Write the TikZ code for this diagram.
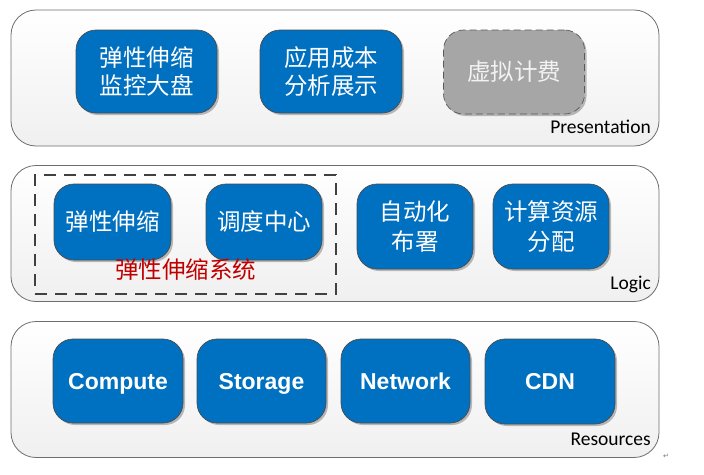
\documentclass[tikz,border=0pt]{standalone}
\usepackage{fontspec}
\usetikzlibrary{shadows}
\newfontfamily\cjk{Noto Sans CJK SC}
\newfontfamily\lbl{Carlito}
\newfontfamily\arialb{Liberation Sans}[BoldFont={Liberation Sans Bold}]
\newfontfamily\dejavu{DejaVu Sans}
\definecolor{boxblue}{RGB}{0,112,192}
\definecolor{boxgray}{RGB}{166,166,166}
\definecolor{sysred}{RGB}{192,0,0}
\definecolor{panelline}{RGB}{110,110,110}
\tikzset{
  panel/.style={draw=panelline, line width=0.8pt, rounded corners=25pt,
    top color=white, bottom color=black!6, minimum width=648pt, minimum height=136pt, inner sep=0pt},
  bluebox/.style={draw=black!70, line width=0.7pt, fill=boxblue, rounded corners=20pt,
    text=white, align=center, inner sep=0pt,
    drop shadow={shadow xshift=2pt, shadow yshift=-2pt, opacity=0.25, fill=black}},
  graybox/.style={bluebox, fill=boxgray, draw=black!65, dash pattern=on 7pt off 4pt, text=black!5},
  cjktext/.style={font=\cjk\fontsize{23.5}{28}\selectfont},
  cjktextb/.style={font=\cjk\fontsize{23.5}{30}\selectfont},
  entext/.style={font=\arialb\bfseries\fontsize{23}{26}\selectfont, text height=16.4pt, text depth=0pt},
  layerlabel/.style={font=\lbl\fontsize{19.5}{22}\selectfont, anchor=base east, inner sep=0pt},
  sysframe/.style={draw=black!75, line width=2.4pt, dash pattern=on 12pt off 8pt, inner sep=0pt}
}
\begin{document}
\begin{tikzpicture}[x=1pt,y=-1pt]
\useasboundingbox (0,0) rectangle (704,474);
% panels
\node[panel] (pres) at (335,78) {};
\node[panel] (logic) at (335,233.5) {};
\node[panel] (res) at (335,389.5) {};
\node[layerlabel] (presl) at (651,133) {Presentation};
\node[layerlabel] (logicl) at (651,289) {Logic};
\node[layerlabel] (resl) at (651,445) {Resources};
% presentation boxes
\node[bluebox, cjktext, minimum width=141pt, minimum height=83pt] (p1) at (146.5,71.5) {弹性伸缩\\监控大盘};
\node[bluebox, cjktext, minimum width=142pt, minimum height=83pt] (p2) at (331,71.5) {应用成本\\分析展示};
\node[graybox, cjktext, minimum width=141pt, minimum height=84pt] (p3) at (514,72) {虚拟计费};
% logic
\node[sysframe, minimum width=301pt, minimum height=119pt] (sys) at (185.5,234.5) {};
\node[bluebox, cjktext, minimum width=117pt, minimum height=76pt] (l1) at (112.5,222) {弹性伸缩};
\node[bluebox, cjktext, minimum width=116pt, minimum height=76pt] (l2) at (264,222) {调度中心};
\node[cjktext, text=sysred, inner sep=0pt] (sysl) at (185.5,270) {弹性伸缩系统};
\node[bluebox, cjktextb, minimum width=116pt, minimum height=85pt] (l3) at (415,226.5) {自动化\\布署};
\node[bluebox, cjktextb, minimum width=116pt, minimum height=85pt] (l4) at (551,226.5) {计算资源\\分配};
% resources
\node[bluebox, entext, minimum width=130pt, minimum height=84pt] (r1) at (118,381) {Compute};
\node[bluebox, entext, minimum width=129pt, minimum height=84pt] (r2) at (261.5,381) {Storage};
\node[bluebox, entext, minimum width=129pt, minimum height=84pt] (r3) at (405.5,381) {Network};
\node[bluebox, entext, minimum width=130pt, minimum height=85pt] (r4) at (550,381.5) {CDN};
\node[font=\dejavu\fontsize{7}{8}\selectfont, text=black!55, inner sep=0pt] (pm) at (666,456) {↵};
\end{tikzpicture}
\end{document}
